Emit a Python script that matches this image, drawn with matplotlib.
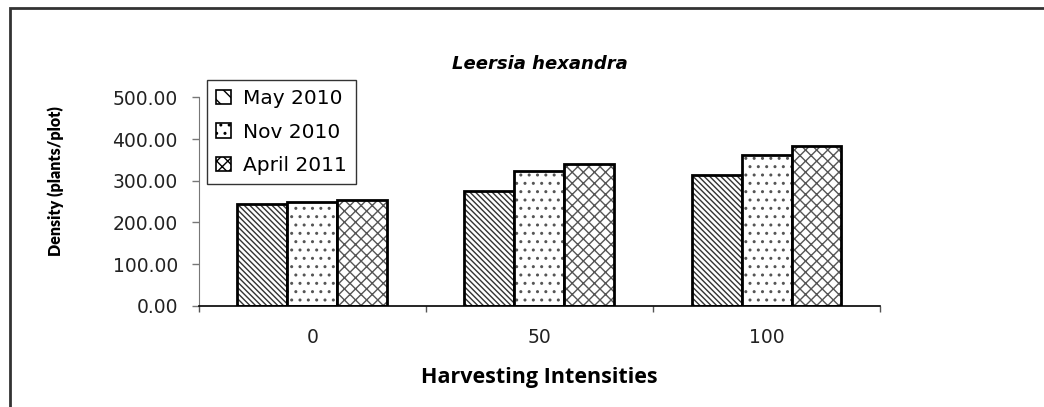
import numpy as np
import matplotlib
matplotlib.use("Agg")
import matplotlib.pyplot as plt
from matplotlib.patches import Rectangle, Patch

plt.rcParams['font.family'] = ['DejaVu Sans']
plt.rcParams['hatch.linewidth'] = 1.0

# data
intensities = ["0", "50", "100"]
series_names = ["May 2010", "Nov 2010", "April 2011"]
may_2010 = [245, 275, 314]
nov_2010 = [249, 323, 362]
april_2011 = [254, 340, 384]
hatches = ["\\\\\\\\\\\\", "..", "xxx"]
hatch_colors = ["#333333", "#555555", "#555555"]

fig = plt.figure(figsize=(10.44, 4.07), dpi=100)
ax = fig.add_axes([0.1903, 0.2482, 0.8430 - 0.1903, 0.761 - 0.2482])

x = np.arange(len(intensities))
w = 0.22
handles = []
for i, vals in enumerate([may_2010, nov_2010, april_2011]):
    pos = x + (i - 1) * w
    # hatch layer in grey, outline layer in black on top
    ax.bar(pos, vals, width=w, facecolor="white", edgecolor=hatch_colors[i],
           linewidth=0, hatch=hatches[i])
    ax.bar(pos, vals, width=w, fill=False, edgecolor="black", linewidth=2)
    handles.append(Patch(facecolor="white", edgecolor="black", linewidth=1.2,
                         hatch=hatches[i][:2] if i == 0 else hatches[i]))

ax.set_xlim(-0.5, 2.5)
ax.set_ylim(0, 500)
yt = np.arange(0, 501, 100)
ax.set_yticks(yt)
ax.set_yticklabels([f"{v:.2f}" for v in yt], fontsize=13.5, color="#222222")
ax.set_xticks(x)
ax.set_xticklabels(intensities, fontsize=13.5, color="#222222")
ax.set_xticks([-0.5, 0.5, 1.5, 2.5], minor=True)
ax.tick_params(axis="x", which="major", length=0, pad=16)
ax.tick_params(axis="x", which="minor", length=4, color="#555555", width=1)
ax.tick_params(axis="y", length=5, color="#777777", width=1, pad=10)

for s in ["top", "right"]:
    ax.spines[s].set_visible(False)
ax.spines["left"].set_color("#777777")
ax.spines["bottom"].set_color("black")
ax.spines["bottom"].set_linewidth(1.2)

ax.set_title("Leersia hexandra", fontsize=13, fontweight="bold",
             fontstyle="italic", pad=20)
ax.set_xlabel("Harvesting Intensities", family=["Open Sans", "DejaVu Sans"],
              fontsize=15.5, fontweight="bold", labelpad=14)
ax.set_ylabel("Density (plants/plot)", family=["Lato", "DejaVu Sans"],
              fontsize=11.5, fontweight="heavy")
ax.yaxis.set_label_coords(-0.197, 0.6)

leg = fig.legend(handles=handles, labels=series_names, loc="upper left",
                 bbox_to_anchor=(207 / 1044, 1 - 80 / 407), fontsize=14.5,
                 frameon=True, fancybox=False, edgecolor="black",
                 handlelength=0.75, handleheight=0.75, handletextpad=0.6,
                 labelspacing=0.72, borderpad=0.45, borderaxespad=0)
leg.get_frame().set_linewidth(1.0)

# outer chart-area border (runs off the right and bottom edges)
fig.patches.append(Rectangle((10 / 1044, -0.05), 1.1, 1.05 - 7.5 / 407,
                             transform=fig.transFigure, fill=False,
                             edgecolor="#333333", linewidth=2))

fig.savefig("out.png", dpi=100)
